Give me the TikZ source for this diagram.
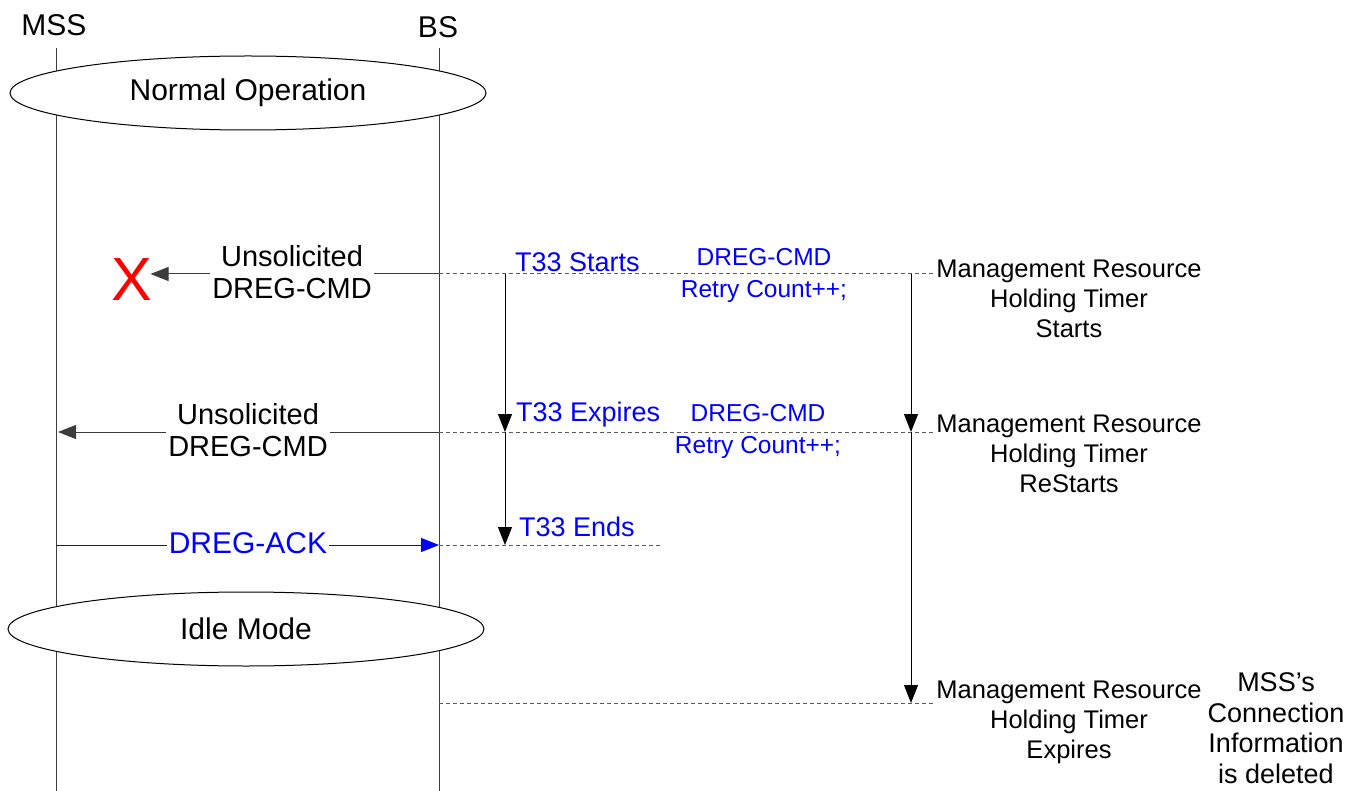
\documentclass[tikz,border=0pt]{standalone}
\usepackage{fontspec}
\setmainfont{Liberation Sans}
\usetikzlibrary{shapes.geometric,arrows.meta}
\definecolor{msgblue}{RGB}{0,0,255}
\definecolor{lifegray}{RGB}{60,60,60}
\definecolor{dashgray}{RGB}{90,90,90}
\newcommand{\fs}[2]{\fontsize{#1}{#2}\selectfont}
\tikzset{
  lifeline/.style={draw=lifegray, line width=1pt},
  state/.style={ellipse, draw=black, line width=1pt, fill=white, minimum width=476pt,
                minimum height=74pt, inner sep=0pt, font=\fs{30}{34}},
  tip/.style={-{Triangle[length=18pt,width=14pt]}},
  msg/.style={draw=lifegray, line width=1pt, tip},
  ackmsg/.style={draw=msgblue, line width=1pt, tip},
  timer/.style={draw=black, line width=1pt, tip},
  guide/.style={draw=dashgray, line width=1pt, dash pattern=on 4pt off 3pt},
  msglabel/.style={fill=white, inner sep=2pt, align=center, font=\fs{29}{32}},
  bluelabel/.style={text=msgblue, inner sep=0pt, font=\fs{27}{31}},
  bluenote/.style={text=msgblue, inner sep=0pt, align=center, font=\fs{24.5}{32}},
  sidenote/.style={inner sep=0pt, align=center, font=\fs{25.5}{30}},
  entity/.style={inner sep=0pt, font=\fs{30}{34}}
}
\begin{document}
\begin{tikzpicture}[x=1pt,y=-1pt]
\useasboundingbox (0,0) rectangle (1346,791);

% entities and lifelines
\node[entity] (mss) at (54,25) {MSS};
\node[entity] (bs) at (438,27) {BS};
\coordinate (mssTop) at (56,48);
\coordinate (mssBot) at (56,791);
\coordinate (bsTop) at (439,48);
\coordinate (bsBot) at (439,791);
\draw[lifeline] (mssTop) -- (mssBot);
\draw[lifeline] (bsTop) -- (bsBot);

% states
\node[state] (normal) at (248,93) {Normal Operation};
\node[state] (idle) at (246,629) {Idle Mode};

% event points
\coordinate (bs1) at (439,274);
\coordinate (bs2) at (439,432);
\coordinate (bs3) at (439,545);
\coordinate (bs4) at (439,703);
\coordinate (mss2) at (56,432);
\coordinate (mss3) at (56,545);
\coordinate (g1) at (935,274);
\coordinate (g2) at (935,432);
\coordinate (g3) at (660,545);
\coordinate (g4) at (935,703);
\coordinate (ta) at (505,274);
\coordinate (tb) at (505,432);
\coordinate (tc) at (505,545);
\coordinate (ma) at (911,274);
\coordinate (mb) at (911,432);
\coordinate (mc) at (911,703);

% dashed guides to the timers
\draw[guide] (bs1) -- (g1);
\draw[guide] (bs2) -- (g2);
\draw[guide] (bs3) -- (g3);
\draw[guide] (bs4) -- (g4);

% lost first command
\node[text=red, inner sep=0pt, font=\fs{61}{61}] (lost) at (132,280) {X};
\draw[msg] (bs1) -- ([xshift=-2pt]lost.east |- bs1);
\node[msglabel] (u1) at (292,272) {Unsolicited\\DREG-CMD};

% second command
\draw[msg] (bs2) -- ([xshift=2pt]mss2);
\node[msglabel] (u2) at (248,430) {Unsolicited\\DREG-CMD};

% acknowledgement
\draw[ackmsg] (mss3) -- (bs3);
\node[msglabel, text=msgblue, font=\fs{30}{32}] (ack) at (248,543) {DREG-ACK};

% T33 timer
\draw[timer] (ta) -- (tb);
\draw[timer] (tb) -- (tc);
\node[bluelabel, anchor=west] (t1) at (515,262) {T33 Starts};
\node[bluelabel, anchor=west] (t2) at (516,415) {T33 Expires};
\node[bluelabel, anchor=west] (t3) at (519,527) {T33 Ends};
\node[bluenote] (r1) at (764,275) {DREG-CMD\\Retry Count++;};
\node[bluenote] (r2) at (758,431) {DREG-CMD\\Retry Count++;};

% management resource holding timer
\draw[timer] (ma) -- (mb);
\draw[timer] (mb) -- (mc);
\node[sidenote] (h1) at (1069,299) {Management Resource\\Holding Timer\\Starts};
\node[sidenote] (h2) at (1069,454) {Management Resource\\Holding Timer\\ReStarts};
\node[sidenote] (h3) at (1069,722) {Management Resource\\Holding Timer\\Expires};
\node[sidenote, font=\fs{27}{30.5}] (del) at (1276,728) {MSS’s\\Connection\\Information\\is deleted};
\end{tikzpicture}
\end{document}
